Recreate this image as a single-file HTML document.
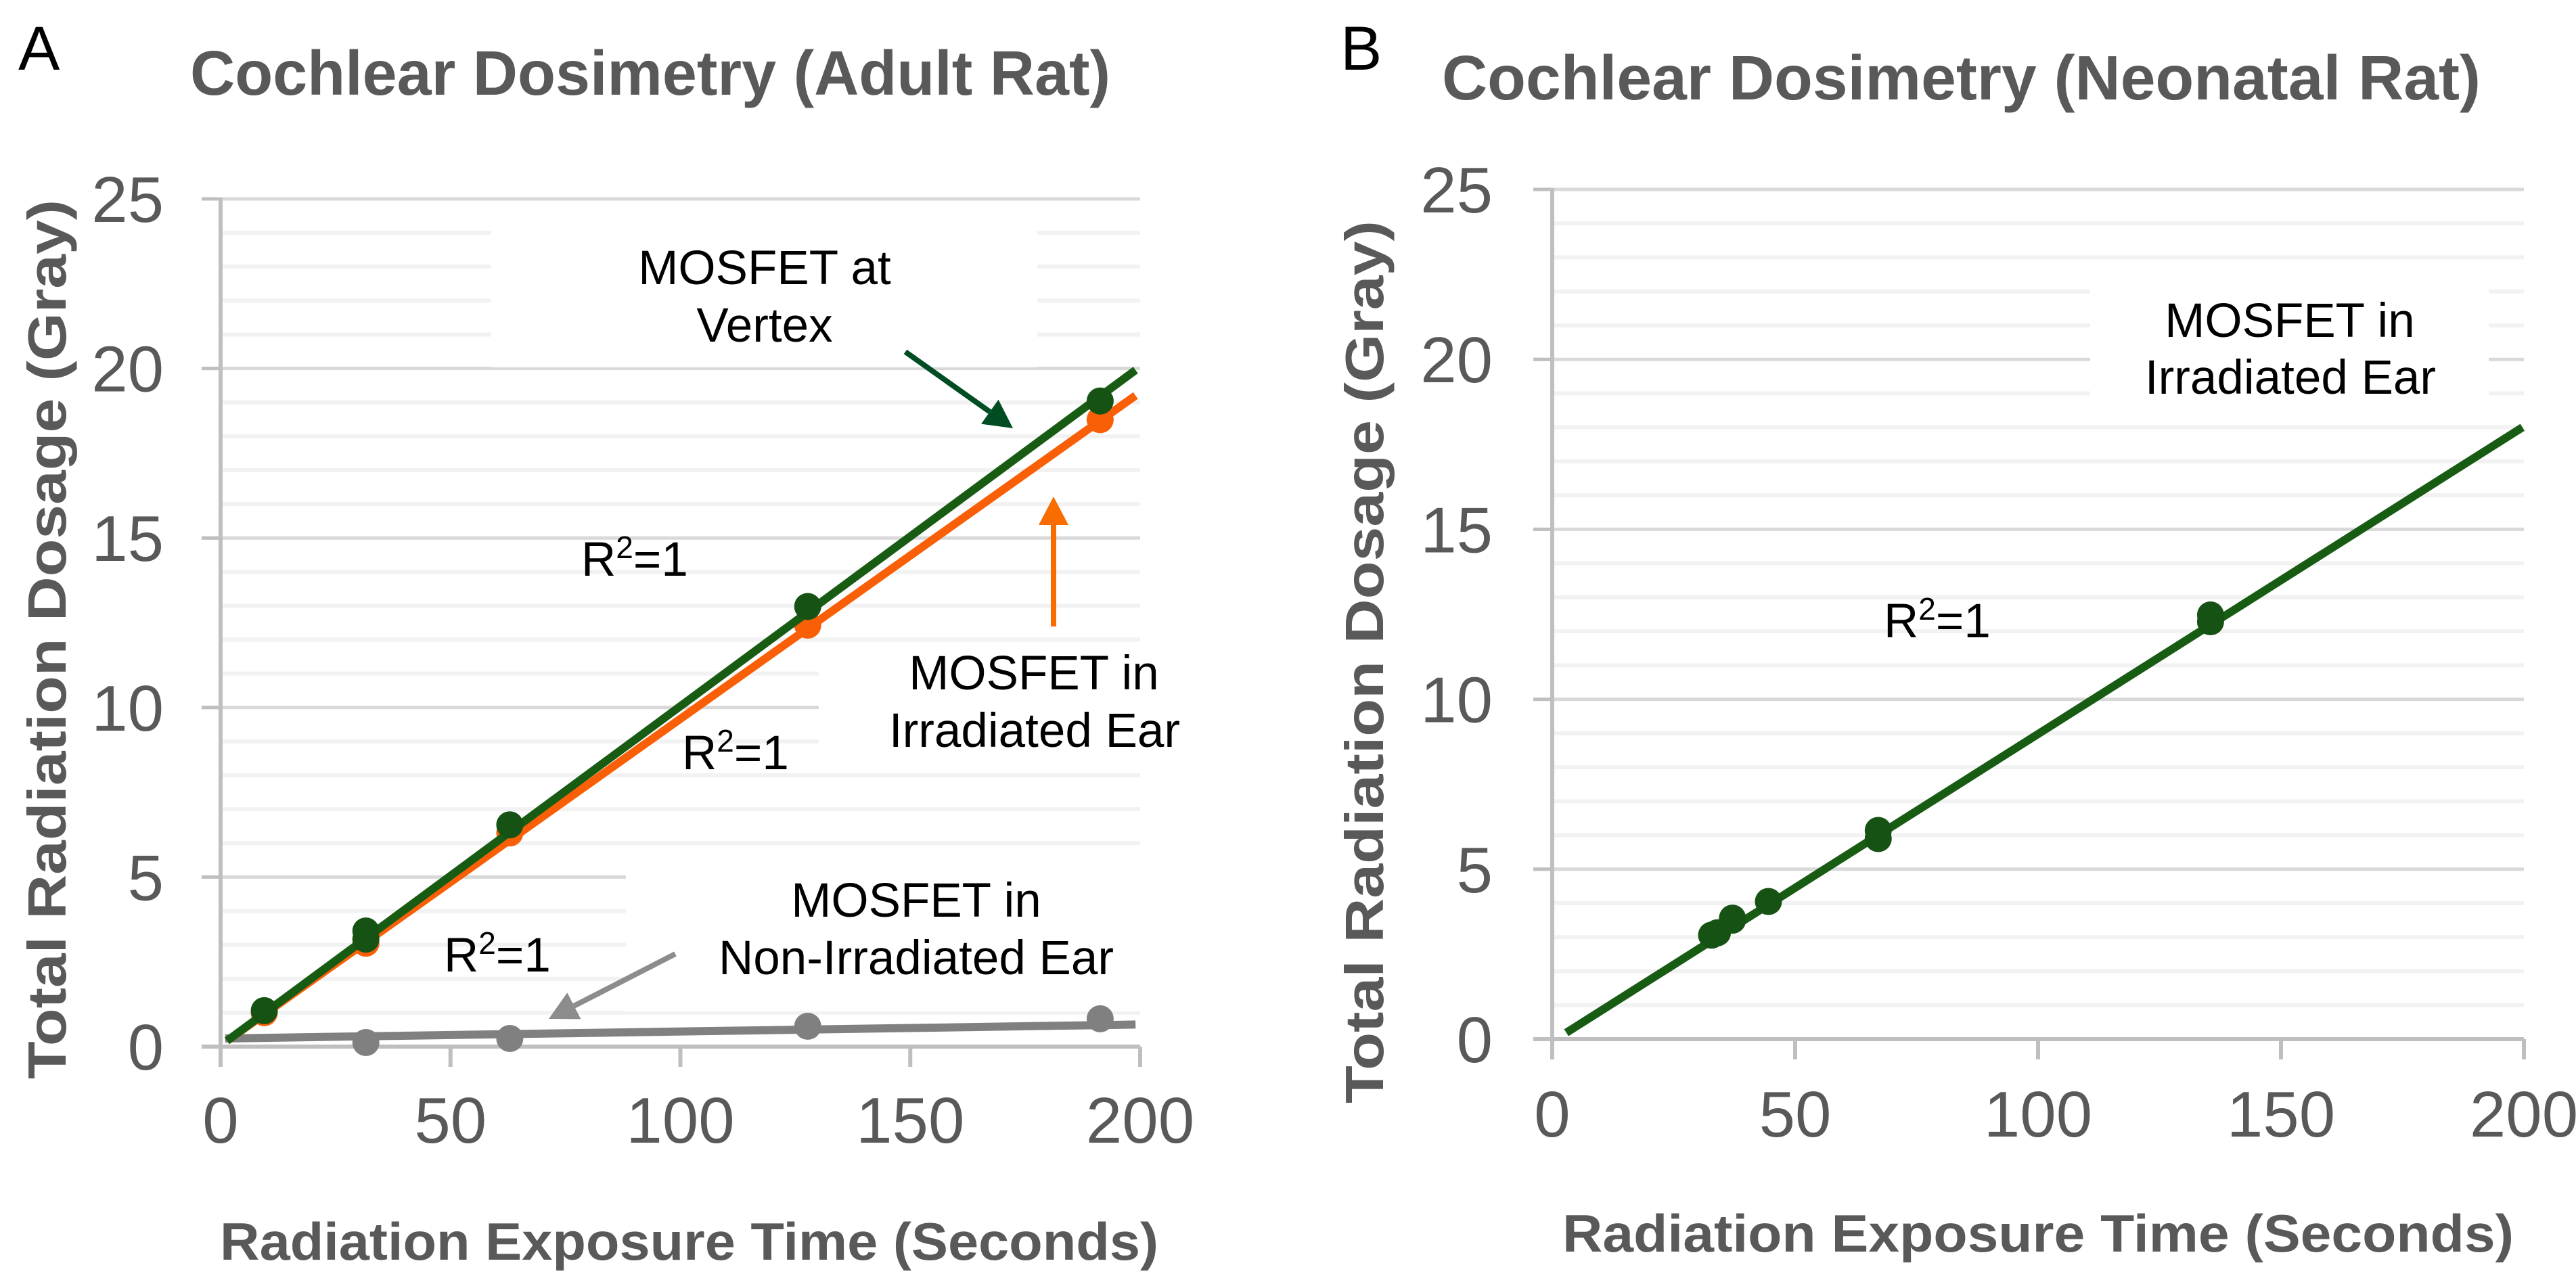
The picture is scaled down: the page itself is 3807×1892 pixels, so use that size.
<!DOCTYPE html>
<html><head><meta charset="utf-8">
<style>
html,body{margin:0;padding:0;background:#fff;}
svg{display:block;}
text{font-family:"Liberation Sans",Arial,sans-serif;}
</style></head>
<body>
<svg id="fig" width="3807" height="1892" viewBox="0 0 3807 1892" xmlns="http://www.w3.org/2000/svg">
  <rect x="0" y="0" width="3807" height="1892" fill="#fff"/>
  <g id="chartA"></g>
  <g id="chartB"></g>
</svg>
<script>
// ---- Chart A data (Adult Rat) ----
const aVertexX = [9.5, 31.6, 31.6, 62.9, 127.7, 191.3];
const aVertexY = [1.06, 3.41, 3.17, 6.54, 12.98, 19.04];
const aIrrX = [9.5, 31.6, 62.9, 127.7, 191.3];
const aIrrY = [1.0, 3.05, 6.3, 12.43, 18.49];
const aNonX = [31.6, 62.9, 127.7, 191.3];
const aNonY = [0.12, 0.24, 0.6, 0.82];
const aVertexFitX = [1.4, 199];
const aVertexFitY = [0.17, 19.95];
const aIrrFitX = [1.4, 199];
const aIrrFitY = [0.17, 19.2];
const aNonFitX = [1.0, 199];
const aNonFitY = [0.24, 0.65];
// ---- Chart B data (Neonatal Rat) ----
const bX = [32.8, 34, 37.1, 37.1, 44.5, 67.1, 67.1, 135.5, 135.5];
const bY = [3.06, 3.13, 3.56, 3.5, 4.05, 5.9, 6.14, 12.28, 12.48];
const bFitX = [2.9, 199.7];
const bFitY = [0.19, 18.0];
// ---- Axes ticks ----
const xTicks = [0, 50, 100, 150, 200];
const yTicks = [0, 5, 10, 15, 20, 25];
const yMinor = [1,2,3,4,6,7,8,9,11,12,13,14,16,17,18,19,21,22,23,24];

const NS = "http://www.w3.org/2000/svg";
function mk(parent, tag, attrs, txt){
  const e = document.createElementNS(NS, tag);
  for (const k in attrs) e.setAttribute(k, attrs[k]);
  if (txt !== undefined) e.textContent = txt;
  parent.appendChild(e);
  return e;
}

function drawChart(g, cfg){
  const sx = v => cfg.x0 + (v/200)*(cfg.x1 - cfg.x0);
  const sy = v => cfg.y0 - (v/25)*(cfg.y0 - cfg.y25);
  yMinor.forEach(v=>{
    const l = mk(g,'line',{x1:cfg.x0+3,x2:cfg.x1,y1:sy(v),y2:sy(v),stroke:'#f2f2f2','stroke-width':6});
    
    
  });
  yTicks.forEach(v=>{
    if (v===0) return;
    const l = mk(g,'line',{x1:cfg.x0-28,x2:cfg.x1,y1:sy(v),y2:sy(v),stroke:'#d9d9d9','stroke-width':5});
    
    
  });
  cfg.boxes.forEach(b=>{
    const r = mk(g,'rect',{x:b[0],y:b[1],width:b[2],height:b[3],fill:'#fff'});
    
    
  });
  yTicks.forEach(v=>{
    const t = mk(g,'line',{x1:cfg.x0-28,x2:cfg.x0,y1:sy(v),y2:sy(v),stroke:'#bfbfbf','stroke-width':5});
    
    
  });
  const ya = mk(g,'line',{x1:cfg.x0,x2:cfg.x0,y1:cfg.y25-2,y2:cfg.y0+30,stroke:'#bfbfbf','stroke-width':6});
  
  
  const xa = mk(g,'line',{x1:cfg.x0-28,x2:cfg.x1,y1:cfg.y0,y2:cfg.y0,stroke:'#bfbfbf','stroke-width':6});
  
  
  xTicks.forEach(v=>{
    const t = mk(g,'line',{x1:sx(v),x2:sx(v),y1:cfg.y0,y2:cfg.y0+30,stroke:'#bfbfbf','stroke-width':6});
    
    
    const lb = mk(g,'text',{x:sx(v),y:cfg.xLabelY+34,'text-anchor':'middle','font-size':96,fill:'#595959'},String(v));
    
    
  });
  yTicks.forEach(v=>{
    const lb = mk(g,'text',{x:cfg.yLabelRight,y:sy(v)+34,'text-anchor':'end','font-size':96,fill:'#595959'},String(v));
    
    
  });
  cfg.series.forEach(s=>{
    const ln = mk(g,'line',{x1:sx(s.fx[0]),y1:sy(s.fy[0]),x2:sx(s.fx[1]),y2:sy(s.fy[1]),stroke:s.color,'stroke-width':12});
    
    
    s.xs.forEach((xv,i)=>{
      const c = mk(g,'circle',{cx:sx(xv),cy:sy(s.ys[i]),r:20,fill:s.mcolor});
      
      
    });
  });
}

function addText(g, name, x, y, size, txt, opts){
  opts = opts || {};
  const a = {x:x,y:y,'font-size':size,fill:opts.fill||'#000'};
  if (opts.anchor) a['text-anchor']=opts.anchor;
  if (opts.weight) a['font-weight']=opts.weight;
  if (opts.len){ a.textLength=opts.len; a.lengthAdjust='spacingAndGlyphs'; }
  if (opts.transform) a.transform=opts.transform;
  const t = mk(g,'text',a,txt);
  
  
  return t;
}
function addR2(g, x, y){
  const t = mk(g,'text',{x:x,y:y,'font-size':71,fill:'#000'});
  
  
  t.appendChild(document.createTextNode('R'));
  const s = document.createElementNS(NS,'tspan');
  s.setAttribute('font-size','46'); s.setAttribute('dy','-26'); s.textContent='2';
  t.appendChild(s);
  const s2 = document.createElementNS(NS,'tspan');
  s2.setAttribute('dy','26'); s2.textContent='=1';
  t.appendChild(s2);
}
function addArrow(g, name, x1,y1,x2,y2,color){
  const dx=x2-x1, dy=y2-y1, L=Math.hypot(dx,dy), ux=dx/L, uy=dy/L;
  const hl=42, hw=22;
  const bx=x2-ux*hl, by=y2-uy*hl;
  const ln = mk(g,'line',{x1:x1,y1:y1,x2:bx,y2:by,stroke:color,'stroke-width':8});
  
  
  const p = mk(g,'polygon',{points:`${x2},${y2} ${bx-uy*hw},${by+ux*hw} ${bx+uy*hw},${by-ux*hw}`,fill:color});
  
  
}

const gA = document.getElementById('chartA');
drawChart(gA,{
  x0:326, x1:1685, y0:1547, y25:294, yLabelRight:242, xLabelY:1655,
  boxes:[[726,300,807,243],[1210,960,480,170],[925,1275,760,220]],
  series:[
    {name:'non-irradiated-ear', xs:aNonX, ys:aNonY, fx:aNonFitX, fy:aNonFitY, color:'#808080', mcolor:'#808080'},
    {name:'irradiated-ear', xs:aIrrX, ys:aIrrY, fx:aIrrFitX, fy:aIrrFitY, color:'#f95f06', mcolor:'#f95f06'},
    {name:'vertex', xs:aVertexX, ys:aVertexY, fx:aVertexFitX, fy:aVertexFitY, color:'#185c14', mcolor:'#165214'}
  ]
});
addText(gA,'panel-label-a',27,103,92,'A');
addText(gA,'chart-title',281,140,93,'Cochlear Dosimetry (Adult Rat)',{fill:'#595959',weight:'bold',len:1360});
addText(gA,'y-axis-title',0,0,80,'Total Radiation Dosage (Gray)',{fill:'#595959',weight:'bold',len:1300,transform:'translate(97,1595) rotate(-90)'});
addText(gA,'x-axis-title',325,1862,78,'Radiation Exposure Time (Seconds)',{fill:'#595959',weight:'bold',len:1387});
addText(gA,'vertex-annotation',1130,420,71,'MOSFET at',{anchor:'middle'});
addText(gA,'vertex-annotation-2',1130,505,71,'Vertex',{anchor:'middle'});
addText(gA,'irradiated-annotation',1528,1019,71,'MOSFET in',{anchor:'middle'});
addText(gA,'irradiated-annotation-2',1529,1104,71,'Irradiated Ear',{anchor:'middle'});
addText(gA,'non-irradiated-annotation',1354,1355,71,'MOSFET in',{anchor:'middle'});
addText(gA,'non-irradiated-annotation-2',1354,1440,71,'Non-Irradiated Ear',{anchor:'middle'});
addR2(gA,859,851);
addR2(gA,1008,1137);
addR2(gA,656,1436);
addArrow(gA,'vertex-arrow',1338,520,1497,633,'#004d23');
addArrow(gA,'irradiated-arrow',1557,926,1557,734,'#f96c00');
addArrow(gA,'non-irradiated-arrow',998,1410,811,1506,'#8c8c8c');

const gB = document.getElementById('chartB');
drawChart(gB,{
  x0:2294, x1:3730, y0:1536, y25:280, yLabelRight:2206, xLabelY:1646,
  boxes:[[3089,410,589,180]],
  series:[
    {name:'neonatal-irradiated-ear', xs:bX, ys:bY, fx:bFitX, fy:bFitY, color:'#185c14', mcolor:'#165214'}
  ]
});
addText(gB,'panel-label-b',1981,103,92,'B');
addText(gB,'chart-title',2131,147,93,'Cochlear Dosimetry (Neonatal Rat)',{fill:'#595959',weight:'bold',len:1535});
addText(gB,'y-axis-title',0,0,80,'Total Radiation Dosage (Gray)',{fill:'#595959',weight:'bold',len:1305,transform:'translate(2044,1631) rotate(-90)'});
addText(gB,'x-axis-title',2309,1850,78,'Radiation Exposure Time (Seconds)',{fill:'#595959',weight:'bold',len:1406});
addText(gB,'annotation',3384,498,71,'MOSFET in',{anchor:'middle'});
addText(gB,'annotation-2',3385,582,71,'Irradiated Ear',{anchor:'middle'});
addR2(gB,2784,942);
</script>
</body></html>
